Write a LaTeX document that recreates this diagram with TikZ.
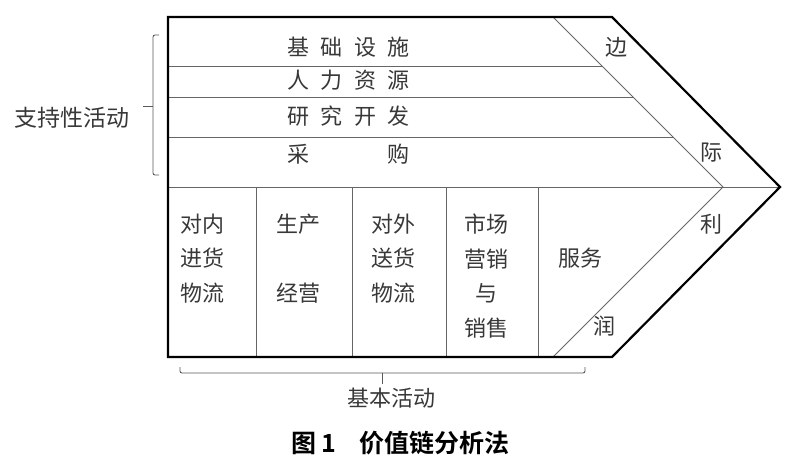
\documentclass[tikz,border=0pt]{standalone}
\usepackage{fontspec}
\setmainfont{Noto Sans CJK SC}
\newfontfamily\cjkbold{Noto Sans CJK SC}[BoldFont={* Bold}]
\begin{document}
\begin{tikzpicture}[x=1pt,y=-1pt,
  txt/.style={inner sep=0pt,text=black!78,font=\fontsize{22}{34.5}\selectfont,align=center},
  outer/.style={line width=2.2pt,black,line join=miter},
  thin/.style={line width=0.9pt,black!60},
  bracestyle/.style={line width=0.9pt,black!65}]
\useasboundingbox (0,0) rectangle (800,471);
% named coordinates of the chevron
\coordinate (TL) at (168,17);
\coordinate (TR) at (612,17);
\coordinate (TIP) at (780,187);
\coordinate (BR) at (612,357);
\coordinate (BL) at (168,357);
\coordinate (ITop) at (553,17);
\coordinate (ITip) at (723,187);
\coordinate (IBot) at (553,357);
\coordinate (ML) at (168,187);
% support rows
\coordinate (r1l) at (168,66);  \coordinate (r1r) at (602,66);
\coordinate (r2l) at (168,97);  \coordinate (r2r) at (633,97);
\coordinate (r3l) at (168,137); \coordinate (r3r) at (673,137);
\draw[thin] (r1l) -- (r1r);
\draw[thin] (r2l) -- (r2r);
\draw[thin] (r3l) -- (r3r);
\draw[thin] (ML) -- (TIP);
\draw[thin] (ITop) -- (ITip) -- (IBot);
% primary dividers
\foreach \x/\n in {256/a,352/b,446/c,538/d}{
  \coordinate (d\n t) at (\x,187);
  \coordinate (d\n b) at (\x,357);
  \draw[thin] (d\n t) -- (d\n b);
}
% outer outline
\draw[outer] (BR) -- (BL) -- (TL) -- (TR) -- (TIP) -- cycle;
% support texts
\node[txt] (infra) at (348.5,47.5) {基\hspace{11.5pt}础\hspace{11.5pt}设\hspace{11.5pt}施};
\node[txt] (hr) at (348.5,80) {人\hspace{11.5pt}力\hspace{11.5pt}资\hspace{11.5pt}源};
\node[txt] (rd) at (348.5,116) {研\hspace{11.5pt}究\hspace{11.5pt}开\hspace{11.5pt}发};
\node[txt] (proc) at (348.5,154) {采\hspace{78.5pt}购};
% margin texts
\node[txt] (m1) at (616,47) {边};
\node[txt] (m2) at (711,153) {际};
\node[txt] (m3) at (711,224) {利};
\node[txt] (m4) at (604,326) {润};
% primary texts
\node[txt] (p1) at (202,258.5) {对内\\进货\\物流};
\node[txt] (p2a) at (298,224) {生产};
\node[txt] (p2b) at (298,293) {经营};
\node[txt] (p3) at (393,258.5) {对外\\送货\\物流};
\node[txt] (p4) at (486,276) {市场\\营销\\与\\销售};
\node[txt] (p5) at (580,258) {服务};
% left brace
\coordinate (lb1) at (159,35);
\coordinate (lb2) at (153,35);
\coordinate (lb3) at (153,175);
\coordinate (lb4) at (159,175);
\coordinate (lbm) at (153,106);
\coordinate (lbt) at (143,106);
\draw[bracestyle,rounded corners=2pt] (lb1) -- (lb2) -- (lb3) -- (lb4);
\draw[bracestyle] (lbm) -- (lbt);
\node[txt,font=\fontsize{23}{28}\selectfont] (support) at (72,117.5) {支持性活动};
% bottom brace
\coordinate (bb1) at (180,367);
\coordinate (bb2) at (180,373);
\coordinate (bb3) at (585,373);
\coordinate (bb4) at (585,367);
\coordinate (bbm) at (382,373);
\coordinate (bbt) at (382,384);
\draw[bracestyle,rounded corners=2pt] (bb1) -- (bb2) -- (bb3) -- (bb4);
\draw[bracestyle] (bbm) -- (bbt);
\node[txt] (primary) at (391,398) {基本活动};
% caption
\node[inner sep=0pt,anchor=west,text=black,font=\cjkbold\bfseries\fontsize{25}{28}\selectfont] (cap) at (291,443) {图\hspace{5pt}1\hspace{24pt}价值链分析法};
\end{tikzpicture}
\end{document}
